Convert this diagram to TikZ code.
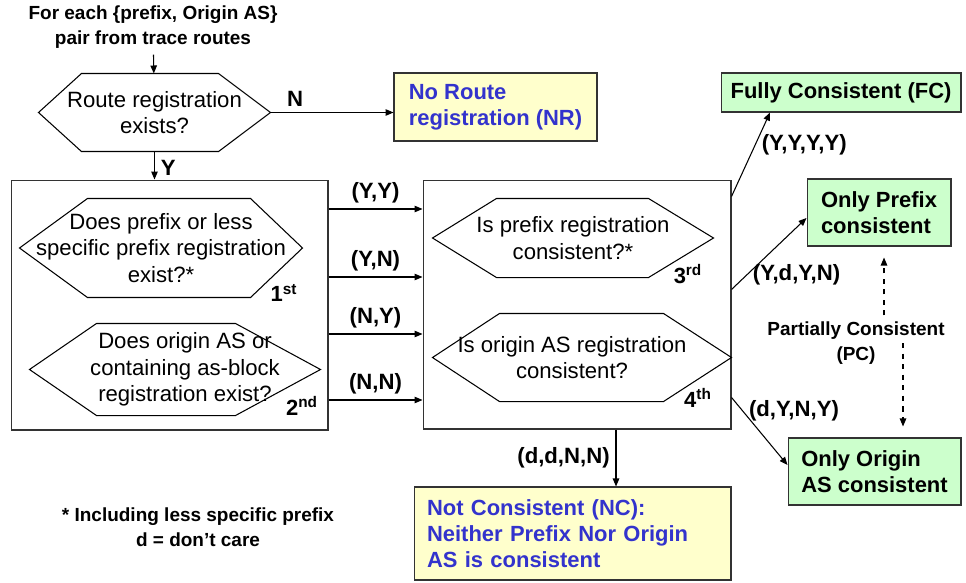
\documentclass[tikz,border=0pt]{standalone}
\usepackage{fontspec}
\setmainfont{Liberation Sans}
\usetikzlibrary{arrows.meta}

\definecolor{notefill}{HTML}{FFFFCC}
\definecolor{notetext}{HTML}{3333CC}
\definecolor{goodfill}{HTML}{CCFFCC}
\definecolor{edge}{HTML}{333333}

% outline of a question hexagon round a node
\newcommand{\hexedge}[3]{\draw (#1.west) -- ([xshift=#2]#1.north west) -- ([xshift=-#3]#1.north east) -- (#1.east) -- ([xshift=-#3]#1.south east) -- ([xshift=#2]#1.south west) -- cycle;}

\begin{document}
\begin{tikzpicture}[x=0.02cm, y=-0.02cm, line width=0.6pt,
    >={Triangle[length=1.6mm,width=1.3mm]},
    question/.style={inner sep=0pt, align=center, font=\fontsize{12.6}{15}\selectfont},
    frame/.style={draw=edge, inner sep=0pt},
    verdict/.style={draw=edge, fill=notefill, text=notetext, align=left, inner sep=0pt, font=\bfseries\fontsize{12.5}{15}\selectfont},
    result/.style={draw=edge, fill=goodfill, inner sep=0pt, font=\bfseries\fontsize{12.5}{15}\selectfont},
    tag/.style={font=\bfseries\fontsize{12.6}{15}\selectfont},
    note/.style={align=center, font=\bfseries\fontsize{10.8}{14}\selectfont},
    order/.style={inner sep=0pt, font=\bfseries\fontsize{12.5}{14}\selectfont}]

    \useasboundingbox (0,0) rectangle (966,582);

    \node[note] (src) at (153,27) {For each \{prefix, Origin AS\}\\pair from trace routes};
    \node[question, minimum width=4.62cm, minimum height=1.54cm] (q0) at (154.5,112.5) {Route registration\\exists?};
    \node[verdict, minimum width=4.06cm, minimum height=1.36cm] (nr) at (495.5,107) {No Route\\registration (NR)};

    \node[frame, minimum width=6.34cm, minimum height=5cm] (lbox) at (169.5,305) {};
    \node[frame, minimum width=6.16cm, minimum height=4.98cm] (rbox) at (577,304.5) {};

    \node[question, minimum width=5.64cm, minimum height=1.96cm] (q1) at (161,248) {Does prefix or less\\specific prefix registration\\exist?*};
    \node[question, minimum width=5.8cm, minimum height=1.82cm] (q2) at (175,369.5) {\hspace*{0.4cm}Does origin AS or\\\hspace*{0.4cm}containing as-block\\\hspace*{0.4cm}registration exist?};
    \node[question, minimum width=5.6cm, minimum height=1.56cm] (q3) at (573,238) {Is prefix registration\\consistent?*};
    \node[question, minimum width=5.96cm, minimum height=1.74cm] (q4) at (582,357.5) {Is origin AS registration\hspace*{0.4cm}\\consistent?\hspace*{0.4cm}};

    \hexedge{q0}{0.86cm}{1.04cm}
    \hexedge{q1}{1.36cm}{1.04cm}
    \hexedge{q2}{1.34cm}{1.7cm}
    \hexedge{q3}{1.28cm}{1.3cm}
    \hexedge{q4}{1.34cm}{1.36cm}

    \node[order] (n1) at (284,293) {1\textsuperscript{st}};
    \node[order] (n2) at (302,406) {2\textsuperscript{nd}};
    \node[order] (n3) at (688,274) {3\textsuperscript{rd}};
    \node[order] (n4) at (698,398) {4\textsuperscript{th}};

    \node[result, minimum width=4.8cm, minimum height=0.78cm] (fc) at (841,92.5) {Fully Consistent (FC)};
    \node[result, align=left, minimum width=2.88cm, minimum height=1.34cm] (op) at (879,212.5) {Only Prefix\\consistent};
    \node[result, align=left, minimum width=3.46cm, minimum height=1.34cm] (oo) at (874.5,471.5) {Only Origin\\AS consistent};
    \node[verdict, text width=5.82cm, inner xsep=0.26cm, minimum width=6.34cm, minimum height=1.86cm] (nc) at (572.5,533.5) {Not Consistent (NC):\\Neither Prefix Nor Origin\\AS is consistent};

    \node[note] (pc) at (856,343) {Partially Consistent\\(PC)};
    \node[note] (foot) at (198,527) {* Including less specific prefix\\d = don’t care};

    \draw[->] (src) -- (q0);
    \draw[->] (q0.east) -- (q0.east -| nr.west) node[tag, pos=0.2, above] {N};
    \draw[->] (q0.south) -- (q0.south |- lbox.north) node[tag, pos=0.6, right] {Y};

    \draw[->] (lbox.east |- 0,209) -- (rbox.west |- 0,209) node[tag, midway, above] {(Y,Y)};
    \draw[->] (lbox.east |- 0,277) -- (rbox.west |- 0,277) node[tag, midway, above] {(Y,N)};
    \draw[->] (lbox.east |- 0,334) -- (rbox.west |- 0,334) node[tag, midway, above] {(N,Y)};
    \draw[->] (lbox.east |- 0,400) -- (rbox.west |- 0,400) node[tag, midway, above] {(N,N)};

    \draw[->] ([yshift=-0.34cm]rbox.north east) -- ([xshift=-1.42cm]fc.south) node[tag, pos=0.62, anchor=west] {(Y,Y,Y,Y)};
    \draw[->] ([yshift=-2.2cm]rbox.north east) -- ([yshift=-0.11cm]op.west) node[tag, pos=0.2, anchor=west] {(Y,d,Y,N)};
    \draw[->] ([yshift=-4.36cm]rbox.north east) -- ([yshift=0.13cm]oo.west) node[tag, pos=0.2, anchor=west] {(d,Y,N,Y)};
    \draw[->] (rbox.south -| 616,0) -- (nc.north -| 616,0) node[tag, midway, left] {(d,d,N,N)};

    \draw[->, dashed, shorten >=0.22cm] (pc.north -| 884,0) -- (op.south -| 884,0);
    \draw[->, dashed, shorten >=0.22cm] (pc.center -| 903,0) -- (oo.north -| 903,0);
\end{tikzpicture}
\end{document}
